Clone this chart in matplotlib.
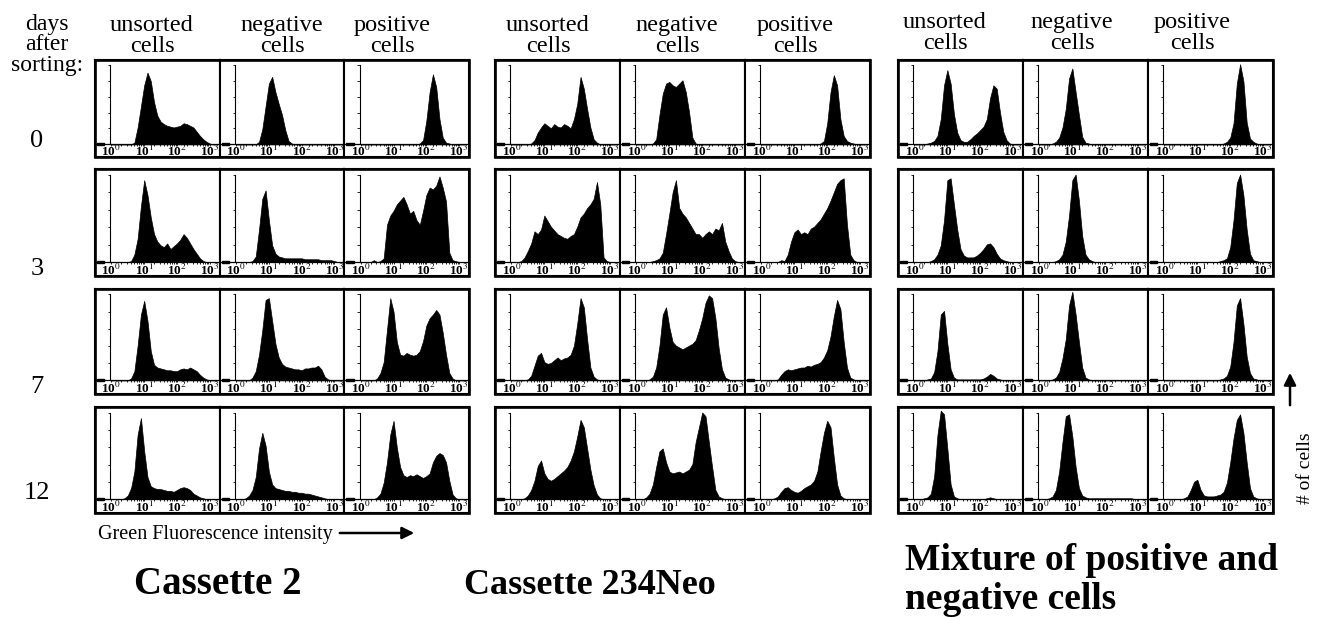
import numpy as np
import matplotlib
matplotlib.use("Agg")
import matplotlib.pyplot as plt
from matplotlib.patches import Rectangle

plt.rcParams['font.family'] = ['Liberation Serif', 'DejaVu Serif']
plt.rcParams['mathtext.fontset'] = 'stix'

# fluorescence histogram bins, log10 units (10^0 .. 10^3.2)
log_bins = np.round(np.arange(0, 3.25, 0.1), 1)
decade_labels = ['10$^{0}$', '10$^{1}$', '10$^{2}$', '10$^{3}$']

days = ['0', '3', '7', '12']
columns = ['unsorted\ncells', 'negative\ncells', 'positive\ncells']
groups = ['Cassette 2', 'Cassette 234Neo', 'Mixture of positive and\nnegative cells']

# cell counts (% of panel height), one list per day after sorting
c2_unsorted = [
    [0, 0, 0, 0, 0, 0, 0, 2, 20, 45, 70, 85, 75, 50, 34, 27, 24, 22, 21, 20, 21, 22, 25, 24, 22, 20, 15, 10, 6, 3, 1, 0, 0],
    [0, 0, 0, 0, 0, 0, 1, 8, 25, 60, 88, 72, 48, 30, 22, 18, 16, 20, 14, 17, 20, 24, 30, 26, 20, 14, 9, 4, 1, 0, 0, 0, 0],
    [0, 0, 0, 0, 0, 0, 2, 10, 38, 72, 87, 65, 32, 17, 14, 13, 12, 11, 11, 10, 10, 12, 13, 12, 14, 12, 10, 6, 3, 1, 0, 0, 0],
    [0, 0, 0, 0, 1, 4, 12, 30, 70, 88, 52, 24, 14, 12, 11, 11, 10, 9, 9, 8, 10, 12, 13, 12, 10, 6, 4, 2, 1, 0, 0, 0, 0],
]
c2_negative = [
    [0, 0, 0, 0, 0, 0, 0, 3, 18, 45, 72, 80, 62, 48, 35, 17, 4, 1, 0, 0, 0, 0, 0, 0, 0, 0, 0, 0, 0, 0, 0, 0, 0],
    [0, 0, 0, 0, 0, 1, 6, 35, 68, 77, 45, 18, 9, 6, 5, 4, 4, 4, 4, 4, 4, 3, 3, 3, 3, 3, 2, 2, 2, 2, 1, 0, 0],
    [0, 0, 0, 0, 0, 3, 10, 28, 55, 88, 90, 65, 40, 25, 18, 15, 14, 13, 12, 12, 11, 13, 13, 14, 14, 16, 12, 4, 1, 0, 0, 0, 0],
    [0, 0, 0, 1, 4, 10, 24, 55, 72, 58, 30, 16, 12, 11, 10, 9, 9, 8, 8, 7, 7, 6, 6, 5, 4, 3, 2, 1, 0, 0, 0, 0, 0],
]
c2_positive = [
    [0, 0, 0, 0, 0, 0, 0, 0, 0, 0, 0, 0, 0, 0, 0, 0, 0, 0, 1, 5, 28, 62, 83, 68, 30, 8, 2, 1, 0, 0, 0, 0, 0],
    [0, 0, 0, 0, 2, 0, 1, 4, 40, 50, 55, 62, 66, 70, 62, 52, 55, 45, 40, 55, 72, 80, 78, 82, 92, 80, 65, 10, 2, 1, 0, 0, 0],
    [0, 0, 0, 0, 0, 2, 8, 20, 55, 90, 75, 42, 28, 27, 30, 28, 27, 28, 32, 43, 60, 68, 72, 77, 72, 52, 28, 8, 2, 0, 0, 0, 0],
    [0, 0, 0, 0, 0, 2, 6, 18, 40, 70, 85, 56, 35, 26, 24, 26, 25, 27, 25, 23, 25, 28, 40, 47, 50, 48, 40, 20, 5, 1, 0, 0, 0],
]

c234_unsorted = [
    [0, 0, 0, 0, 0, 0, 1, 5, 14, 20, 25, 22, 19, 24, 21, 20, 24, 22, 19, 30, 48, 80, 66, 42, 20, 6, 2, 0, 0, 0, 0, 0, 0],
    [0, 0, 0, 1, 5, 12, 20, 33, 30, 35, 50, 44, 38, 34, 30, 28, 26, 25, 28, 30, 38, 48, 52, 58, 62, 68, 86, 62, 5, 1, 0, 0, 0],
    [0, 0, 0, 0, 0, 1, 5, 16, 27, 30, 20, 18, 19, 22, 25, 22, 24, 25, 28, 38, 62, 90, 80, 45, 14, 4, 1, 0, 0, 0, 0, 0, 0],
    [0, 0, 0, 0, 1, 4, 10, 20, 36, 42, 28, 22, 20, 22, 25, 28, 31, 35, 42, 52, 68, 86, 78, 55, 32, 15, 5, 1, 0, 0, 0, 0, 0],
]
c234_negative = [
    [0, 0, 0, 0, 0, 1, 6, 35, 60, 72, 74, 70, 68, 72, 76, 62, 38, 8, 1, 0, 0, 0, 0, 0, 0, 0, 0, 0, 0, 0, 0, 0, 0],
    [0, 0, 0, 0, 0, 1, 2, 4, 10, 30, 52, 75, 88, 58, 52, 48, 42, 36, 30, 30, 26, 30, 33, 30, 36, 34, 42, 22, 12, 4, 1, 0, 0],
    [0, 0, 0, 0, 1, 4, 14, 38, 72, 80, 58, 42, 38, 36, 34, 36, 38, 40, 44, 55, 68, 85, 93, 90, 68, 35, 12, 3, 1, 0, 0, 0, 0],
    [0, 0, 0, 2, 6, 16, 35, 52, 55, 40, 30, 28, 29, 30, 28, 30, 32, 38, 62, 78, 94, 90, 62, 35, 10, 3, 1, 0, 0, 0, 0, 0, 0],
]
c234_positive = [
    [0, 0, 0, 0, 0, 0, 0, 0, 0, 0, 0, 0, 0, 0, 0, 0, 0, 0, 1, 4, 25, 62, 82, 70, 30, 10, 4, 2, 1, 0, 0, 0, 0],
    [0, 0, 0, 0, 0, 0, 2, 1, 8, 22, 32, 35, 30, 32, 30, 36, 38, 42, 46, 52, 58, 66, 75, 84, 88, 90, 40, 8, 2, 0, 0, 0, 0],
    [0, 0, 0, 0, 0, 1, 6, 10, 12, 11, 12, 13, 14, 14, 16, 15, 17, 18, 20, 25, 33, 48, 70, 88, 78, 42, 14, 3, 1, 0, 0, 0, 0],
    [0, 0, 0, 0, 1, 3, 8, 12, 13, 10, 8, 7, 9, 12, 14, 16, 20, 30, 52, 72, 85, 78, 45, 16, 4, 1, 0, 0, 0, 0, 0, 0, 0],
]

mix_unsorted = [
    [0, 0, 0, 0, 1, 2, 4, 10, 30, 70, 88, 72, 36, 14, 5, 3, 3, 6, 10, 13, 17, 21, 30, 55, 70, 66, 38, 15, 5, 1, 0, 0, 0],
    [0, 0, 0, 0, 0, 1, 3, 8, 18, 45, 88, 90, 62, 35, 14, 7, 5, 5, 5, 7, 10, 14, 19, 20, 16, 9, 4, 2, 1, 0, 0, 0, 0],
    [0, 0, 0, 0, 1, 2, 9, 32, 72, 76, 40, 12, 3, 1, 1, 1, 1, 1, 1, 1, 1, 2, 4, 7, 5, 2, 1, 0, 0, 0, 0, 0, 0],
    [0, 0, 0, 1, 2, 6, 25, 70, 96, 92, 55, 16, 3, 1, 0, 0, 0, 0, 0, 0, 0, 0, 1, 2, 1, 0, 0, 0, 0, 0, 0, 0, 0],
]
mix_negative = [
    [0, 0, 0, 0, 1, 3, 8, 20, 42, 78, 90, 62, 35, 9, 2, 1, 0, 0, 0, 0, 0, 0, 0, 0, 0, 0, 0, 0, 0, 0, 0, 0, 0],
    [0, 0, 0, 0, 0, 1, 3, 8, 22, 50, 88, 94, 66, 28, 8, 3, 1, 0, 0, 0, 0, 0, 0, 0, 0, 0, 0, 0, 0, 0, 0, 0, 0],
    [0, 0, 0, 0, 1, 3, 9, 24, 45, 82, 97, 72, 42, 14, 3, 1, 0, 0, 0, 0, 0, 0, 0, 0, 0, 0, 0, 0, 0, 0, 0, 0, 0],
    [0, 0, 0, 1, 3, 10, 30, 62, 90, 92, 68, 35, 12, 4, 2, 1, 1, 1, 1, 1, 1, 1, 1, 1, 1, 1, 1, 1, 1, 0, 0, 0, 0],
]
mix_positive = [
    [0, 0, 0, 0, 0, 0, 0, 0, 0, 0, 0, 0, 0, 0, 0, 0, 0, 0, 1, 3, 8, 25, 72, 95, 75, 26, 7, 3, 1, 0, 0, 0, 0],
    [0, 0, 0, 0, 0, 0, 0, 0, 0, 0, 0, 0, 0, 0, 0, 0, 0, 1, 2, 4, 16, 45, 85, 94, 72, 35, 9, 2, 1, 0, 0, 0, 0],
    [0, 0, 0, 0, 0, 0, 0, 0, 0, 0, 0, 0, 0, 0, 0, 0, 0, 1, 2, 5, 15, 42, 82, 90, 62, 26, 8, 2, 1, 0, 0, 0, 0],
    [0, 0, 0, 0, 0, 0, 1, 3, 10, 19, 21, 10, 4, 3, 3, 3, 4, 5, 8, 18, 40, 66, 86, 92, 72, 40, 12, 3, 1, 0, 0, 0, 0],
]

panels = [
    [c2_unsorted, c2_negative, c2_positive],
    [c234_unsorted, c234_negative, c234_positive],
    [mix_unsorted, mix_negative, mix_positive],
]

# ---- layout (pixels) ----
W, H = 1327, 617
group_x = [(95, 469), (495, 870), (898, 1273)]
row_y = [(60, 157), (169, 276), (289, 394), (407, 513)]

fig = plt.figure(figsize=(W / 100, H / 100), dpi=100)
fig.patch.set_facecolor('white')


def px_axes(x0, y0, x1, y1):
    return fig.add_axes([x0 / W, 1 - y1 / H, (x1 - x0) / W, (y1 - y0) / H])


minor = np.concatenate([np.log10(np.arange(1, 10)) + d for d in range(4)])
minor = minor[minor < 3.3]


def draw_hist(ax, vals):
    ax.fill_between(log_bins, 0, vals, color='black', lw=0.5)
    ax.set_xlim(-0.5, 3.3)
    ax.set_ylim(-15, 100)
    ax.set_xticks([])
    ax.set_yticks([])
    for s in ax.spines.values():
        s.set_linewidth(1.5)
    ax.plot([-0.5, 3.3], [0, 0], color='black', lw=0.9)
    ax.vlines(minor, -2, 0, color='black', lw=0.6)
    ax.plot([-0.03, -0.03], [0, 94], color='black', lw=0.8)
    ax.hlines(np.arange(0, 95, 18.8), -0.1, -0.03, color='black', lw=0.6)
    ax.add_patch(Rectangle((-0.44, -0.8), 0.22, 2.4, color='black'))
    for d, lab in enumerate(decade_labels):
        ax.text(d, -8.5, lab, ha='center', va='center', fontsize=9.5,
                fontweight='bold', clip_on=True)


for g, (gx0, gx1) in enumerate(group_x):
    edges = np.linspace(gx0, gx1, 4)
    for r, (ry0, ry1) in enumerate(row_y):
        for c in range(3):
            ax = px_axes(edges[c], ry0, edges[c + 1], ry1)
            draw_hist(ax, panels[g][c][r])

# ---- text overlay ----
ov = fig.add_axes([0, 0, 1, 1], zorder=10)
ov.set_xlim(0, W)
ov.set_ylim(H, 0)
ov.axis('off')
ov.patch.set_alpha(0)

for gx0, gx1 in group_x:
    for ry0, ry1 in row_y:
        ov.add_patch(Rectangle((gx0, ry0), gx1 - gx0, ry1 - ry0, fill=False,
                               lw=1.9, edgecolor='black'))

ov.text(47, 45, 'days\nafter\nsorting:', ha='center', va='center',
        fontsize=17, linespacing=0.95)

header_x = [[152, 282, 392], [548, 677, 795], [945, 1072, 1192]]
header_y = [36, 36, 33]
for g in range(3):
    for c, lab in enumerate(columns):
        ov.text(header_x[g][c], header_y[g], lab, ha='center', va='center',
                fontsize=17.5, linespacing=0.95)

day_y = [141, 269, 387, 493]
for lab, y in zip(days, day_y):
    ov.text(37, y, lab, ha='center', va='center', fontsize=19)

ov.text(98, 535, 'Green Fluorescence intensity', ha='left', va='center',
        fontsize=14.5)
ov.annotate('', xy=(417, 533), xytext=(337, 533),
            arrowprops=dict(arrowstyle='-|>', color='black', lw=1.8,
                            mutation_scale=18))

ov.annotate('', xy=(1290, 370), xytext=(1290, 408),
            arrowprops=dict(arrowstyle='-|>', color='black', lw=1.8,
                            mutation_scale=18))
ov.text(1305, 468, '# of cells', ha='center', va='center', rotation=90,
        fontsize=14)

ov.text(218, 585, groups[0], ha='center', va='center', fontsize=28,
        fontweight='bold')
ov.text(590, 585, groups[1], ha='center', va='center', fontsize=26,
        fontweight='bold')
ov.text(905, 580, groups[2], ha='left', va='center', fontsize=27,
        fontweight='bold', linespacing=1.15)

fig.savefig('out.png', dpi=100, facecolor='white')
